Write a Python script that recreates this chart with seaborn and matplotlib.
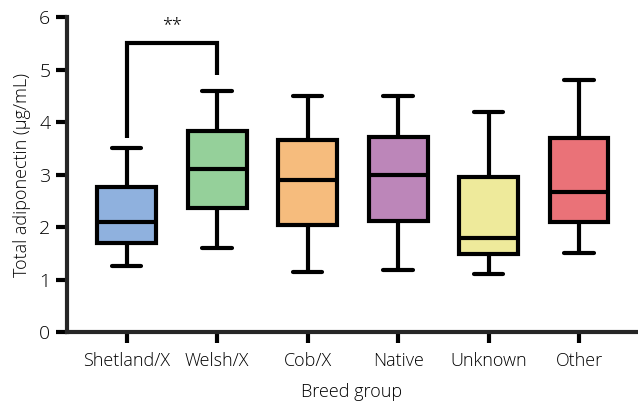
import pandas as pd
import matplotlib.pyplot as plt
import seaborn as sns

breeds = ["Shetland/X", "Welsh/X", "Cob/X", "Native", "Unknown", "Other"]
# five-number summaries: min, Q1, median, Q3, max
summary = {
    "Shetland/X": [1.26, 1.70, 2.10, 2.76, 3.50],
    "Welsh/X": [1.60, 2.36, 3.10, 3.83, 4.60],
    "Cob/X": [1.14, 2.03, 2.90, 3.65, 4.50],
    "Native": [1.18, 2.12, 3.00, 3.71, 4.50],
    "Unknown": [1.10, 1.49, 1.80, 2.96, 4.20],
    "Other": [1.50, 2.10, 2.66, 3.69, 4.80],
}
colors = ["#8fb1de", "#95d09a", "#f6bc7d", "#bc86b9", "#eeea9b", "#ea7278"]

bracket_left = 3.7
bracket_top = 5.5
bracket_right = 4.9
sig_label = "**"

rows = [(b, v) for b in breeds for v in summary[b]]
df = pd.DataFrame(rows, columns=["breed", "value"])

sns.set_style("ticks")
plt.rcParams["font.family"] = ["Open Sans", "DejaVu Sans"]
plt.rcParams["font.weight"] = "light"
plt.rcParams["axes.labelweight"] = "light"

fig = plt.figure(figsize=(6.38, 4.05), dpi=100)
ax = fig.add_axes([0.105, 0.18, 0.892, 0.778])

sns.boxplot(data=df, x="breed", y="value", hue="breed", order=breeds,
            hue_order=breeds, palette=colors, saturation=1, legend=False,
            whis=(0, 100), width=0.65, linecolor="black", linewidth=3,
            ax=ax)

# significance bracket between the first two groups
ax.plot([0, 0, 1, 1], [bracket_left, bracket_top, bracket_top, bracket_right],
        color="black", lw=3, solid_capstyle="butt", solid_joinstyle="miter")
ax.text(0.5, bracket_top + 0.17, sig_label, ha="center", va="bottom",
        fontsize=13, color="black")

ax.set_ylim(0, 6)
ax.set_xlim(-0.66, 5.63)
ax.set_yticks(range(0, 7))
sns.despine(ax=ax)
for s in ["left", "bottom"]:
    ax.spines[s].set_linewidth(3)
ax.tick_params(axis="both", width=3, length=8, colors="black",
               labelcolor="black")
ax.tick_params(axis="x", labelsize=13, pad=6)
ax.tick_params(axis="y", labelsize=14, pad=4)
ax.set_xlabel("Breed group", fontsize=13, labelpad=10, color="black")
ax.set_ylabel("Total adiponectin (µg/mL)", fontsize=13, labelpad=6,
              color="black")

fig.savefig("out.png", dpi=100)
